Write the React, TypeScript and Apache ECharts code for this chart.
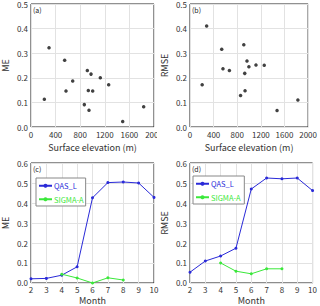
import React, { useEffect, useRef } from "react";
import * as echarts from "echarts";

const elevA = [217, 293, 547, 569, 678, 867, 916, 932, 943, 976, 1003, 1127, 1263, 1491, 1832];
const meA = [0.113, 0.322, 0.271, 0.146, 0.187, 0.091, 0.230, 0.148, 0.068, 0.215, 0.146, 0.200, 0.172, 0.022, 0.082];
const elevB = [206, 282, 537, 558, 667, 856, 911, 927, 932, 965, 997, 1117, 1257, 1474, 1827];
const rmseB = [0.172, 0.411, 0.316, 0.237, 0.230, 0.128, 0.334, 0.218, 0.147, 0.268, 0.245, 0.252, 0.251, 0.067, 0.110];
const months = [2, 3, 4, 5, 6, 7, 8, 9, 10];
const meQas = [0.021, 0.023, 0.039, 0.081, 0.426, 0.502, 0.505, 0.500, 0.428];
const sigmaMonths = [4, 5, 6, 7, 8];
const meSigma = [0.044, 0.025, 0.0, 0.026, 0.015];
const rmseQas = [0.054, 0.110, 0.135, 0.174, 0.470, 0.525, 0.521, 0.525, 0.462];
const rmseSigma = [0.100, 0.059, 0.046, 0.071, 0.071];
const panelLabels = ["(a)", "(b)", "(c)", "(d)"];

const FONT = "'Noto Sans CJK JP', 'DejaVu Sans', sans-serif";
const BLUE = "#2a2ad8";
const GREEN = "#3ae83a";

export default function App() {
  const ref = useRef<HTMLDivElement>(null);
  useEffect(() => {
    if (!ref.current) return;
    const chart = echarts.init(ref.current, null, { renderer: "svg" });
    const grids = [
      { left: 31, top: 4, width: 123, height: 123 },
      { left: 190, top: 4, width: 123, height: 123 },
      { left: 31, top: 163, width: 123, height: 122 },
      { left: 190, top: 163, width: 123, height: 122 },
    ].map((g) => ({ ...g, show: true, borderColor: "#222", borderWidth: 1, backgroundColor: "transparent" }));

    const labelStyle = { fontSize: 8, color: "#333", fontFamily: FONT, margin: 3 };
    const splitLine = { show: true, lineStyle: { color: "#e2e2e2", width: 1 } };
    const nameStyle = { fontSize: 9, color: "#333", fontFamily: FONT };

    const xAxis: any[] = [0, 1].map((i) => ({
      type: "value", gridIndex: i, min: 0, max: 2000, interval: 400,
      name: "Surface elevation (m)", nameLocation: "middle", nameGap: 16, nameTextStyle: nameStyle,
      axisLine: { show: false }, axisTick: { show: false },
      axisLabel: { ...labelStyle, formatter: (v: number) => String(v) }, splitLine,
    }));
    [2, 3].forEach((i) => xAxis.push({
      type: "value", gridIndex: i, min: 2, max: 10, interval: 1,
      name: "Month", nameLocation: "middle", nameGap: 13, nameTextStyle: nameStyle,
      axisLine: { show: false }, axisTick: { show: false }, axisLabel: labelStyle, splitLine,
    }));
    const yNames = ["ME", "RMSE", "ME", "RMSE"];
    const yAxis: any[] = [0, 1, 2, 3].map((i) => ({
      type: "value", gridIndex: i, min: 0, max: i < 2 ? 0.5 : 0.6, interval: 0.1,
      name: yNames[i], nameLocation: "middle", nameGap: 21, nameTextStyle: nameStyle,
      axisLine: { show: false }, axisTick: { show: false },
      axisLabel: { ...labelStyle, formatter: (v: number) => v.toFixed(1) }, splitLine,
    }));

    const scatter = (i: number, xs: number[], ys: number[]) => ({
      type: "scatter", xAxisIndex: i, yAxisIndex: i, symbolSize: 3.5,
      itemStyle: { color: "#111" }, data: xs.map((x, k) => [x, ys[k]]),
    });
    const line = (i: number, name: string, xs: number[], ys: number[], color: string) => ({
      type: "line", name, xAxisIndex: i, yAxisIndex: i, symbol: "circle", symbolSize: 3,
      lineStyle: { color, width: 1 }, itemStyle: { color }, data: xs.map((x, k) => [x, ys[k]]),
    });

    const legend = (i: number, left: number, top: number) => ({
      show: true, left, top, orient: "vertical", itemWidth: 13, itemHeight: 5, itemGap: 6,
      padding: [4, 2, 3, 2], borderColor: "#888", borderWidth: 1, backgroundColor: "#fff",
      textStyle: { fontSize: 7.5, fontFamily: FONT, padding: [0, 0, 0, -3] },
      data: [
        { name: i === 2 ? "QAS_L" : "QAS_L ", textStyle: { color: BLUE } },
        { name: i === 2 ? "SIGMA-A" : "SIGMA-A ", textStyle: { color: GREEN } },
      ],
    });

    chart.setOption({
      animation: false,
      grid: grids,
      xAxis,
      yAxis,
      legend: [legend(2, 36, 178), legend(3, 193, 176)],
      series: [
        scatter(0, elevA, meA),
        scatter(1, elevB, rmseB),
        line(2, "QAS_L", months, meQas, BLUE),
        line(2, "SIGMA-A", sigmaMonths, meSigma, GREEN),
        line(3, "QAS_L ", months, rmseQas, BLUE),
        line(3, "SIGMA-A ", sigmaMonths, rmseSigma, GREEN),
      ],
      graphic: [
        ...[[33, 6], [192, 6], [33, 165], [192, 165]].map(([x, y], k) => ({
          type: "text", x, y, z: 50,
          style: { text: panelLabels[k], fontSize: 7, fill: "#222", fontFamily: FONT },
        })),
        { type: "rect", z: 100, shape: { x: 157, y: 128, width: 12, height: 12 }, style: { fill: "#fff" } },
      ],
    });
    return () => chart.dispose();
  }, []);
  return <div ref={ref} style={{ position: "absolute", left: 0, top: 0, width: 320, height: 306 }} />;
}
